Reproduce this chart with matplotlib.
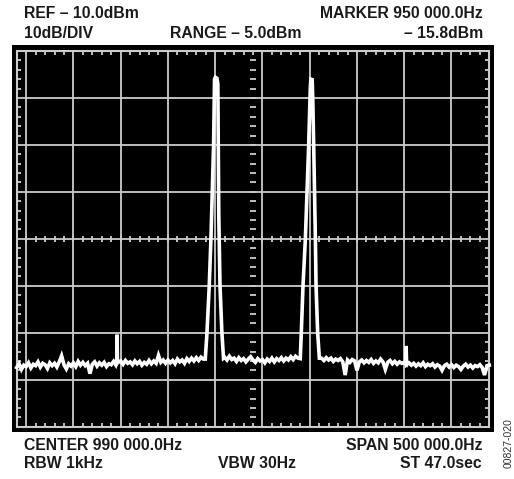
import numpy as np
import matplotlib
matplotlib.use("Agg")
import matplotlib.pyplot as plt
from matplotlib.patches import Rectangle
from matplotlib.ticker import MultipleLocator

# ---------------- data ----------------
ref_dbm = -10.0
db_per_div = 10.0
center_khz = 990.0
span_khz = 500.0

# noise floor segments: sweep grid step 2.5 kHz
seg1_start, seg1_step = 740.0, 2.5
seg1_level = [
    -77.4, -76.6, -77.8, -76.9,
    -77.2, -76.4, -77.5, -76.7,
    -77.0, -76.2, -77.3, -76.5,
    -76.8, -77.6, -76.4, -77.0,
    -76.5, -77.3, -76.2, -74.9,
    -76.8, -77.7, -76.6, -77.1,
    -76.4, -77.2, -76.1, -76.9,
    -76.3, -77.0, -76.5, -78.7,
    -76.7, -76.2, -77.1, -76.4,
    -76.9, -76.3, -77.2, -76.6,
    -76.8, -76.1, -76.9, -76.3,
    -76.0, -76.7, -75.9, -76.5,
    -76.2, -76.8, -76.0, -76.6,
    -76.1, -76.9, -76.3, -76.7,
    -75.9, -76.6, -76.0, -76.5,
    -74.8, -76.3, -75.8, -76.5,
    -75.8, -76.4, -75.9, -76.6,
    -75.6, -76.2, -75.8, -76.5,
    -75.5, -76.1, -75.4, -76.0,
    -75.3, -75.9, -75.2, -75.6,
]
seg2_start, seg2_step = 960.0, 2.5
seg2_level = [
    -75.2, -75.8, -75.0, -75.7,
    -75.4, -76.1, -75.3, -75.9,
    -75.5, -76.2, -75.6, -75.1,
    -75.8, -76.3, -75.5, -76.0,
    -75.7, -76.4, -75.6, -76.1,
    -75.4, -76.2, -75.5, -75.9,
    -75.3, -76.0, -75.4, -75.8,
    -75.1, -75.7, -75.0, -75.4,
]
seg3_start, seg3_step = 1062.5, 2.5
seg3_level = [
    -75.4, -75.9, -75.3,
    -75.8, -75.4, -76.1, -75.6,
    -75.9, -75.5, -76.2, -79.0,
    -75.8, -76.3, -75.7, -76.0,
    -78.0, -76.2, -75.8, -76.4,
    -75.9, -76.3, -75.7, -76.5,
    -76.0, -76.4, -75.6, -76.2,
    -77.8, -76.3, -75.9, -76.6,
    -76.1, -76.7, -76.2, -76.5,
    -76.3, -76.8, -76.4, -76.9,
    -76.5, -77.1, -76.6, -77.0,
    -76.4, -77.2, -76.7, -77.0,
    -76.6, -77.3, -76.8, -77.1,
    -78.0, -77.0, -76.7, -77.3,
    -76.8, -77.4, -76.9, -77.2,
    -77.8, -77.1, -76.7, -77.3,
    -76.9, -77.5, -77.0, -77.2,
    -76.8, -77.4, -79.0, -77.0,
    -76.9,
]

# carrier peaks
peak1_khz = [939.5, 941.3, 943.7, 945.5, 948.3, 949.3, 950.2, 951.8, 952.8, 953.3, 953.8, 955.1, 957.1, 958.8]
peak1_dbm = [-75.6, -70.0, -60.0, -50.0, -30.0, -16.0, -15.6, -15.8, -17.0, -30.0, -45.0, -60.0, -70.0, -75.4]
peak2_khz = [1040.0, 1041.1, 1042.9, 1045.4, 1048.9, 1050.6, 1051.2, 1052.6, 1053.2, 1054.2, 1056.0, 1056.7, 1058.4, 1060.2]
peak2_dbm = [-75.5, -70.0, -60.0, -50.0, -30.0, -18.0, -16.0, -16.1, -20.0, -30.0, -50.0, -60.0, -70.0, -75.4]

# small spurs
spur_khz = [845.8, 846.2, 846.6, 1151.6, 1152.0, 1152.4]
spur_dbm = [-76.5, -70.4, -76.4, -76.6, -72.8, -76.5]

header_left = ["REF \u2013 10.0dBm", "10dB/DIV"]
header_mid = "RANGE \u2013 5.0dBm"
header_right = ["MARKER 950 000.0Hz", "\u2013 15.8dBm"]
footer_left = ["CENTER 990 000.0Hz", "RBW 1kHz"]
footer_mid = "VBW 30Hz"
footer_right = ["SPAN 500 000.0Hz", "ST 47.0sec"]
figure_id = "00827-020"

# ---------------- assemble trace ----------------
f_all, l_all = [], []
for start, step, lev in [(seg1_start, seg1_step, seg1_level),
                         (seg2_start, seg2_step, seg2_level),
                         (seg3_start, seg3_step, seg3_level)]:
    f_all += list(start + step * np.arange(len(lev)))
    l_all += list(lev)
f_all += peak1_khz + peak2_khz + spur_khz
l_all += peak1_dbm + peak2_dbm + spur_dbm
order = np.argsort(f_all)
trace_f = np.asarray(f_all)[order]
trace_l = np.asarray(l_all)[order]

# ---------------- figure ----------------
W, H = 514, 479
fig = plt.figure(figsize=(W / 100, H / 100), dpi=100)
fig.patch.set_facecolor("white")

# black screen background
fig.patches.append(Rectangle((11.7 / W, 1 - 431.7 / H), (494.3 - 11.7) / W, (431.7 - 45) / H,
                             transform=fig.transFigure, facecolor="black", edgecolor="none", zorder=-5))

gl, gr, gt, gb = 16.7, 489.3, 51.0, 426.7
ax = fig.add_axes([gl / W, 1 - gb / H, (gr - gl) / W, (gb - gt) / H])
ax.set_zorder(2)
ax.set_facecolor("black")
grid_col = "#cccccc"

f0 = center_khz - span_khz / 2
f1 = center_khz + span_khz / 2
ax.set_xlim(f0, f1)
ax.set_ylim(ref_dbm - 8 * db_per_div, ref_dbm)
xdiv = span_khz / 10
ax.xaxis.set_major_locator(MultipleLocator(xdiv))
ax.yaxis.set_major_locator(MultipleLocator(db_per_div))
ax.xaxis.set_minor_locator(MultipleLocator(xdiv / 5))
ax.yaxis.set_minor_locator(MultipleLocator(db_per_div / 5))
ax.grid(True, which="major", color=grid_col, lw=1.3)
ax.tick_params(which="major", length=0, labelbottom=False, labelleft=False)
ax.tick_params(which="minor", direction="in", length=3.0, width=1.3, color=grid_col,
               top=True, right=True, bottom=True, left=True)
for s in ax.spines.values():
    s.set_color(grid_col)
    s.set_linewidth(1.5)

# minor ticks on the center cross
xm = np.arange(f0, f1 + 1e-6, xdiv / 5)
ym = np.arange(ref_dbm - 8 * db_per_div, ref_dbm + 1e-6, db_per_div / 5)
ycen = ref_dbm - 4 * db_per_div
ax.plot(xm, np.full_like(xm, ycen), ls="none", marker="|", ms=5, mew=1.3, color=grid_col, zorder=2)
ax.plot(np.full_like(ym, center_khz), ym, ls="none", marker="_", ms=5, mew=1.3, color=grid_col, zorder=2)

# trace
ax.plot(trace_f, trace_l, color="white", lw=2.6, solid_joinstyle="miter", zorder=3, clip_on=False)

# ---------------- text ----------------
fp = dict(family=["Liberation Sans", "DejaVu Sans"], fontsize=11.3, fontweight="bold", color="#1a1a1a")

def put(x, y, s, ha):
    fig.text(x / W, 1 - y / H, s, ha=ha, va="center", **fp)

put(24, 13, header_left[0], "left")
put(24, 33, header_left[1], "left")
put(170, 33, header_mid, "left")
put(483, 13, header_right[0], "right")
put(483, 33, header_right[1], "right")
put(24, 446, footer_left[0], "left")
put(24, 464, footer_left[1], "left")
put(218, 464, footer_mid, "left")
put(482, 446, footer_right[0], "right")
put(482, 464, footer_right[1], "right")
fig.text(509 / W, 1 - 443 / H, figure_id, rotation=90, ha="center", va="center",
         family=["Liberation Sans", "DejaVu Sans"], fontsize=7.5, color="#333333")

fig.savefig("out.png", dpi=100, facecolor="white")
